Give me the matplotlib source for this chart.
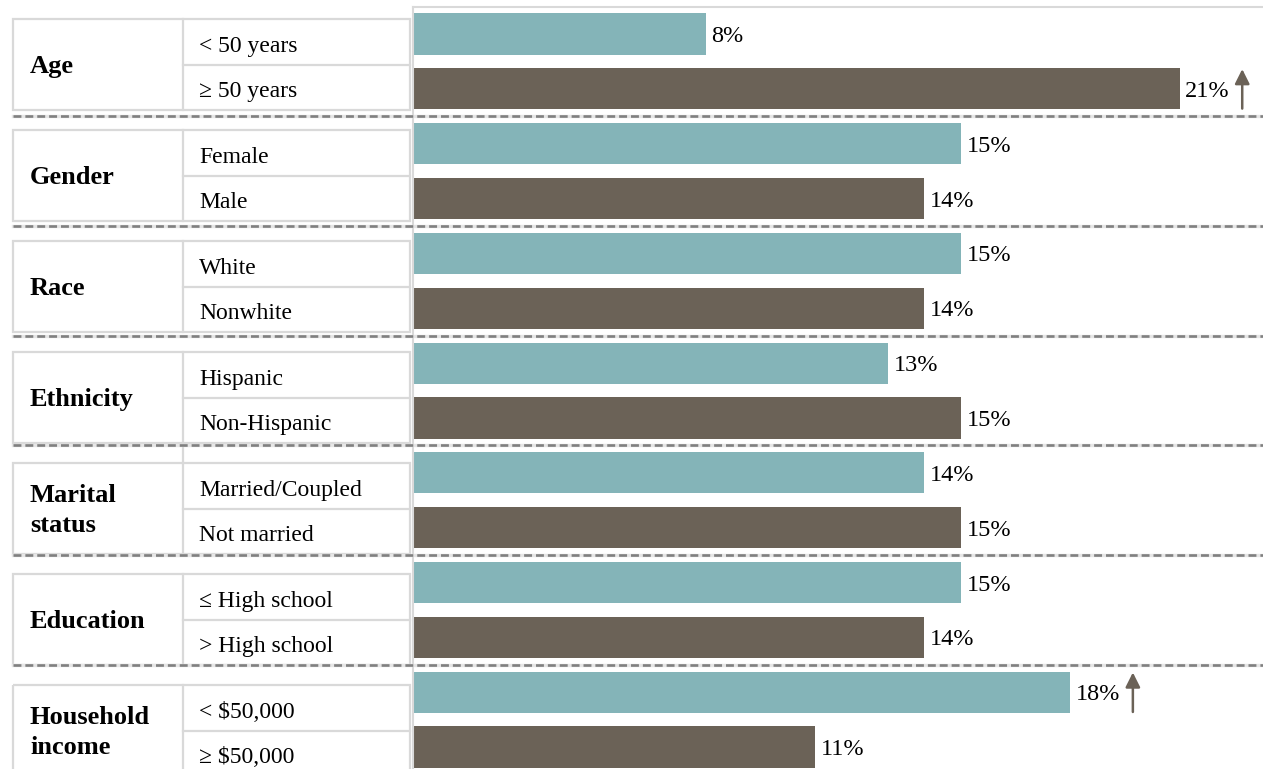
import matplotlib.pyplot as plt
from matplotlib.patches import Rectangle
from matplotlib.transforms import blended_transform_factory

plt.rcParams['font.family'] = ['Liberation Serif', 'DejaVu Serif']

# данные
groups = ['Age', 'Gender', 'Race', 'Ethnicity', 'Marital\nstatus', 'Education', 'Household\nincome']
subgroups = ['< 50 years', '≥ 50 years',
             'Female', 'Male',
             'White', 'Nonwhite',
             'Hispanic', 'Non-Hispanic',
             'Married/Coupled', 'Not married',
             '≤ High school', '> High school',
             '< $50,000', '≥ $50,000']
values = [8, 21, 15, 14, 15, 14, 13, 15, 14, 15, 15, 14, 18, 11]
# строки со стрелкой вверх
arrow_up = [1, 12]

teal = '#84b4b8'
brown = '#6b6257'
grid_gray = '#d9d9d9'

W, H = 1263, 769
fig = plt.figure(figsize=(W / 100, H / 100), dpi=100)

# левая таблица - в пиксельных координатах
tab = fig.add_axes([0, 0, 1, 1])
tab.set_xlim(0, W)
tab.set_ylim(H, 0)
tab.axis('off')

box_l, box_mid, box_r = 13, 183, 410
for g, name in enumerate(groups):
    top = 19 + 111 * g
    h = 91
    tab.add_patch(Rectangle((box_l, top), box_r - box_l, h, fill=False,
                            edgecolor=grid_gray, lw=1.6))
    tab.plot([box_mid, box_mid], [top, top + h], color=grid_gray, lw=1.6)
    tab.plot([box_mid, box_r], [top + h / 2, top + h / 2], color=grid_gray, lw=1.6)
    tab.text(30, top + h / 2 + 2, name, ha='left', va='center', fontsize=19,
             fontweight='bold', linespacing=1.35)
    for j in range(2):
        tab.text(199, top + 25 + 45 * j, subgroups[2 * g + j], ha='left',
                 va='center_baseline', fontsize=17)
# маленький кусочек линии над "Marital status"
tab.plot([box_mid, box_mid], [443, 19 + 111 * 4], color=grid_gray, lw=1.6)

# правая часть - столбцы
ax = fig.add_axes([413 / W, 0, (W - 413) / W, (H - 7) / H])
rows = list(range(len(values)))
colors = [teal if i % 2 == 0 else brown for i in rows]
ax.barh(rows, values, height=0.75, color=colors)
ax.set_ylim(13.40, -0.492)
ax.set_xlim(-0.027, 23.29)
ax.set_xticks([])
ax.set_yticks([])
for s in ['right', 'bottom']:
    ax.spines[s].set_visible(False)
for s in ['top', 'left']:
    ax.spines[s].set_color(grid_gray)
    ax.spines[s].set_linewidth(1.5)

for i, v in enumerate(values):
    ax.text(v + 0.16, i, f'{v}%', ha='left', va='center_baseline', fontsize=17.5)
for i in arrow_up:
    x = values[i] + 1.72
    ax.annotate('', xy=(x, i - 0.36), xytext=(x, i + 0.36),
                arrowprops=dict(arrowstyle='-|>', color=brown, lw=1.8,
                                mutation_scale=22, shrinkA=0, shrinkB=0))

# пунктирные разделители между группами
tr = blended_transform_factory(fig.transFigure, ax.transData)
for g in range(len(groups) - 1):
    y = 2 * g + 1.5
    line_bg = plt.Line2D([13 / W, 1], [y, y], transform=tr, color='#e6e6e6', lw=2.4)
    line = plt.Line2D([13 / W, 1], [y, y], transform=tr, color='#808080', lw=1.9,
                      linestyle=(0, (3.0, 1.5)))
    fig.add_artist(line_bg)
    fig.add_artist(line)

fig.savefig('out.png', dpi=100)
